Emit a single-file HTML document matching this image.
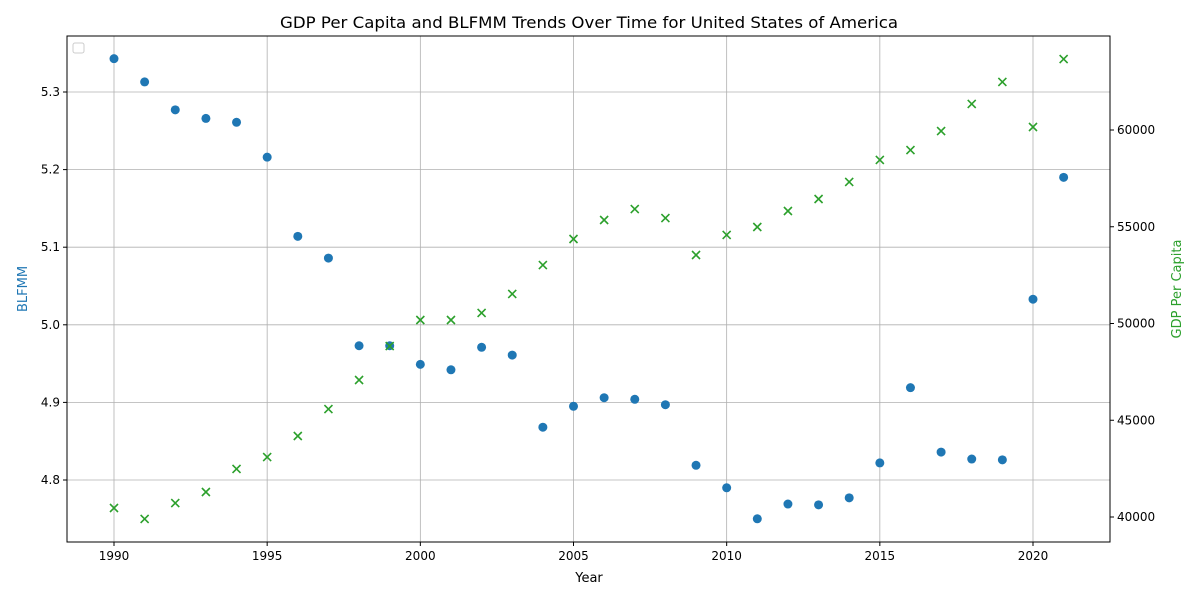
<!DOCTYPE html>
<html><head><meta charset="utf-8"><style>body{margin:0;background:#fff}svg{font-family:"DejaVu Sans","Liberation Sans",sans-serif}</style></head>
<body>
<svg id="chart" width="1200" height="600" xmlns="http://www.w3.org/2000/svg">
<rect width="1200" height="600" fill="#fff"/>
<text x="589" y="28" font-size="16" text-anchor="middle" textLength="618" lengthAdjust="spacingAndGlyphs">GDP Per Capita and BLFMM Trends Over Time for United States of America</text>
<g id="grid"></g><g id="marks"></g><g id="axes"></g>
<rect x="67" y="36" width="1043" height="506" fill="none" stroke="#000" stroke-width="1"/>
<rect x="73" y="43" width="11" height="10" rx="2" fill="#fff" stroke="#ccc"/>
<text x="589" y="582" font-size="13" text-anchor="middle">Year</text>
<text transform="translate(27,289) rotate(-90)" font-size="13" text-anchor="middle" fill="#1f77b4">BLFMM</text>
<text transform="translate(1181,289) rotate(-90)" font-size="13" text-anchor="middle" fill="#2ca02c">GDP Per Capita</text>
</svg>
<script>
const years=[1990,1991,1992,1993,1994,1995,1996,1997,1998,1999,2000,2001,2002,2003,2004,2005,2006,2007,2008,2009,2010,2011,2012,2013,2014,2015,2016,2017,2018,2019,2020,2021];
const blfmm=[5.343,5.313,5.277,5.266,5.261,5.216,5.114,5.086,4.973,4.973,4.949,4.942,4.971,4.961,4.868,4.895,4.906,4.904,4.897,4.819,4.790,4.750,4.769,4.768,4.777,4.822,4.919,4.836,4.827,4.826,5.033,5.190];
const gdp=[40465,39897,40723,41292,42481,43100,44186,45581,47080,48837,50181,50181,50543,51525,53023,54367,55349,55917,55452,53540,54574,54987,55814,56434,57313,58450,58966,59948,61344,62481,60155,63669];
const xTicks=[1990,1995,2000,2005,2010,2015,2020];
const leftTicks=[4.8,4.9,5.0,5.1,5.2,5.3];
const rightTicks=[40000,45000,50000,55000,60000];
const NS="http://www.w3.org/2000/svg";
const X=v=>114+(v-1990)*(919/30);
const YL=v=>92+(5.3-v)*776;
const YR=v=>130+(60000-v)/5000*96.75;
function mk(t,a,p){const e=document.createElementNS(NS,t);for(const k in a)e.setAttribute(k,a[k]);p.appendChild(e);return e;}
const grid=document.getElementById('grid'),marks=document.getElementById('marks'),axes=document.getElementById('axes');
xTicks.forEach(t=>{const x=X(t);
 const g=mk('line',{x1:x,x2:x,y1:36,y2:542,stroke:'#b0b0b0','stroke-width':0.8},grid);
 
 
 mk('line',{x1:x,x2:x,y1:542,y2:546,stroke:'#000'},axes);
 const l=mk('text',{x:x,y:560,'font-size':12,'text-anchor':'middle'},axes);l.textContent=t;
 
 });
leftTicks.forEach(t=>{const y=YL(t);
 const g=mk('line',{x1:67,x2:1110,y1:y,y2:y,stroke:'#b0b0b0','stroke-width':0.8},grid);
 
 
 mk('line',{x1:63,x2:67,y1:y,y2:y,stroke:'#000'},axes);
 const l=mk('text',{x:60,y:y+4,'font-size':12,'text-anchor':'end'},axes);l.textContent=t.toFixed(1);
 
 });
rightTicks.forEach(t=>{const y=YR(t);
 mk('line',{x1:1110,x2:1114,y1:y,y2:y,stroke:'#000'},axes);
 const l=mk('text',{x:1117,y:y+4,'font-size':12},axes);l.textContent=t;
 
 });
years.forEach((yr,i)=>{
 const c=mk('circle',{cx:X(yr),cy:YL(blfmm[i]),r:4.5,fill:'#1f77b4'},marks);
 
 
});
years.forEach((yr,i)=>{const x=X(yr),y=YR(gdp[i]),s=4;
 const p=mk('path',{d:`M${x-s},${y-s}L${x+s},${y+s}M${x-s},${y+s}L${x+s},${y-s}`,stroke:'#2ca02c','stroke-width':1.6,fill:'none'},marks);
 
 
});
</script>
</body></html>
